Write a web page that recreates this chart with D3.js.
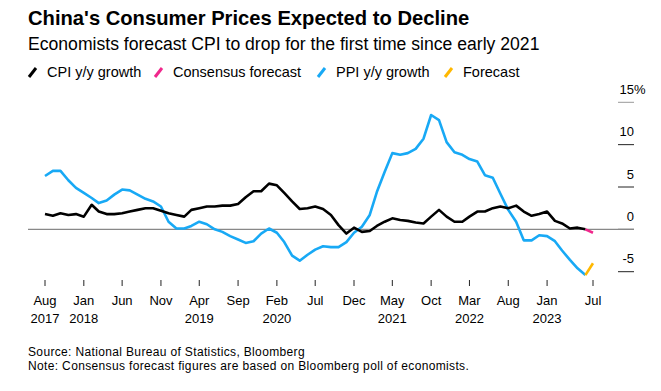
<!DOCTYPE html>
<html>
<head>
<meta charset="utf-8">
<script src="https://cdn.jsdelivr.net/npm/d3@7"></script>
<style>
  body { margin: 0; background: #fff; }
  text { font-family: "Liberation Sans", Arial, sans-serif; }
</style>
</head>
<body>
<div id="chart"></div>
<script>
// monthly data, Aug 2017 .. Jun 2023
var startMonth = "2017-08"
var cpi = [1.8, 1.6, 1.9, 1.7, 1.8,
  1.5, 2.9, 2.1, 1.8, 1.8, 1.9, 2.1, 2.3, 2.5, 2.5, 2.2, 1.9,
  1.7, 1.5, 2.3, 2.5, 2.7, 2.7, 2.8, 2.8, 3.0, 3.8, 4.5, 4.5,
  5.4, 5.2, 4.3, 3.3, 2.4, 2.5, 2.7, 2.4, 1.7, 0.5, -0.5, 0.2,
  -0.3, -0.2, 0.4, 0.9, 1.3, 1.1, 1.0, 0.8, 0.7, 1.5, 2.3, 1.5,
  0.9, 0.9, 1.5, 2.1, 2.1, 2.5, 2.7, 2.5, 2.8, 2.1, 1.6, 1.8,
  2.1, 1.0, 0.7, 0.1, 0.2, 0.0]
var ppi = [6.3, 6.9, 6.9, 5.8, 4.9,
  4.3, 3.7, 3.1, 3.4, 4.1, 4.7, 4.6, 4.1, 3.6, 3.3, 2.7, 0.9,
  0.1, 0.1, 0.4, 0.9, 0.6, 0.0, -0.3, -0.8, -1.2, -1.6, -1.4, -0.5,
  0.1, -0.4, -1.5, -3.1, -3.7, -3.0, -2.4, -2.0, -2.1, -2.1, -1.5, -0.4,
  0.3, 1.7, 4.4, 6.8, 9.0, 8.8, 9.0, 9.5, 10.7, 13.5, 12.9, 10.3,
  9.1, 8.8, 8.3, 8.0, 6.4, 6.1, 4.2, 2.3, 0.9, -1.3, -1.3, -0.7,
  -0.8, -1.4, -2.5, -3.6, -4.6, -5.4]
// forecast for Jul 2023, drawn from the last actual value
var cpiForecast = -0.4
var ppiForecast = -4.0

var tickMonths = ["2017-08", "2018-01", "2018-06", "2018-11", "2019-04", "2019-09", "2020-02",
  "2020-07", "2020-12", "2021-05", "2021-10", "2022-03", "2022-08", "2023-01", "2023-07"]
var yTicks = [-5, 0, 5, 10, 15]

var legendItems = ["CPI y/y growth", "Consensus forecast", "PPI y/y growth", "Forecast"]
var legendColors = ["#000000", "#f0288c", "#18a9f5", "#ffb800"]

var width = 661
    height = 391

var parseMonth = d3.timeParse("%Y-%m")
var start = parseMonth(startMonth)
var months = d3.range(cpi.length + 1).map(function (i) { return d3.timeMonth.offset(start, i) })

var x = d3.scaleTime()
  .domain([months[0], months[months.length - 1]])
  .range([45, 593])
var y = d3.scaleLinear()
  .domain([-5, 15])
  .range([271.7, 102.3])

var svg = d3.select("#chart")
  .append("svg")
    .attr("width", width)
    .attr("height", height)

// titles
svg.append("text")
  .attr("x", 28).attr("y", 25)
  .style("font-size", "20.2px").style("font-weight", "bold")
  .text("China's Consumer Prices Expected to Decline")
svg.append("text")
  .attr("x", 28).attr("y", 50)
  .style("font-size", "17.6px")
  .text("Economists forecast CPI to drop for the first time since early 2021")

// legend
var legendX = [29, 155, 318, 445]
var legend = svg.selectAll("legendItem")
  .data(legendItems)
  .enter()
  .append("g")
    .attr("transform", function (d, i) { return "translate(" + legendX[i] + ",0)" })
legend.append("line")
  .attr("x1", 0).attr("y1", 77)
  .attr("x2", 7).attr("y2", 68)
  .attr("stroke", function (d, i) { return legendColors[i] })
  .attr("stroke-width", 3)
legend.append("text")
  .attr("x", 18).attr("y", 77)
  .style("font-size", "14.5px")
  .text(function (d) { return d })

// y axis: right side, labels above short tick lines
var yAxis = svg.append("g")
yAxis.selectAll("yTick")
  .data(yTicks)
  .enter()
  .append("line")
    .attr("x1", 618).attr("x2", 634)
    .attr("y1", function (d) { return y(d) })
    .attr("y2", function (d) { return y(d) })
    .attr("stroke", function (d) { return d == 15 ? "#999" : "#222" })
    .attr("stroke-width", 1)
yAxis.selectAll("yLabel")
  .data(yTicks)
  .enter()
  .append("text")
    .attr("x", 634)
    .attr("y", function (d) { return y(d) - 8.5 })
    .attr("text-anchor", "end")
    .style("font-size", "13px")
    .text(function (d) { return d < 0 ? "-" + Math.abs(d) : d })
svg.append("text")
  .attr("x", 634).attr("y", y(15) - 8.5)
  .style("font-size", "13px")
  .text("%")

// zero line
svg.append("line")
  .attr("x1", 28).attr("x2", 634)
  .attr("y1", y(0)).attr("y2", y(0))
  .attr("stroke", "#888").attr("stroke-width", 1.2)

// x axis
var tickDates = tickMonths.map(parseMonth)
var xAxis = svg.append("g")
xAxis.selectAll("xTick")
  .data(tickDates)
  .enter()
  .append("line")
    .attr("x1", function (d) { return x(d) })
    .attr("x2", function (d) { return x(d) })
    .attr("y1", 280).attr("y2", 286)
    .attr("stroke", "#222")
xAxis.selectAll("xLabel")
  .data(tickDates)
  .enter()
  .append("text")
    .attr("x", function (d) { return x(d) })
    .attr("y", 305)
    .attr("text-anchor", "middle")
    .style("font-size", "13px")
    .text(d3.timeFormat("%b"))
xAxis.selectAll("xYear")
  .data(tickDates.filter(function (d, i) {
    return i == 0 || d.getFullYear() != tickDates[i - 1].getFullYear()
  }))
  .enter()
  .append("text")
    .attr("x", function (d) { return x(d) })
    .attr("y", 323)
    .attr("text-anchor", "middle")
    .style("font-size", "13px")
    .text(d3.timeFormat("%Y"))

// lines
var line = d3.line()
  .x(function (d) { return x(d[0]) })
  .y(function (d) { return y(d[1]) })
  .curve(d3.curveLinear)

var last = cpi.length - 1
function drawSeries(values, forecast, color, fcColor) {
  svg.append("path")
    .datum(values.map(function (v, i) { return [months[i], v] }))
    .attr("d", line)
    .attr("fill", "none")
    .attr("stroke", color)
    .attr("stroke-width", 2.6)
    .attr("stroke-linejoin", "round")
  svg.append("path")
    .datum([[months[last], values[last]], [months[last + 1], forecast]])
    .attr("d", line)
    .attr("fill", "none")
    .attr("stroke", fcColor)
    .attr("stroke-width", 2.6)
}
drawSeries(ppi, ppiForecast, legendColors[2], legendColors[3])
drawSeries(cpi, cpiForecast, legendColors[0], legendColors[1])

// footer
svg.append("text")
  .attr("x", 28).attr("y", 356)
  .style("font-size", "12px").style("letter-spacing", "0.35px")
  .text("Source: National Bureau of Statistics, Bloomberg")
svg.append("text")
  .attr("x", 28).attr("y", 370)
  .style("font-size", "12px").style("letter-spacing", "0.35px")
  .text("Note: Consensus forecast figures are based on Bloomberg poll of economists.")
</script>
</body>
</html>
